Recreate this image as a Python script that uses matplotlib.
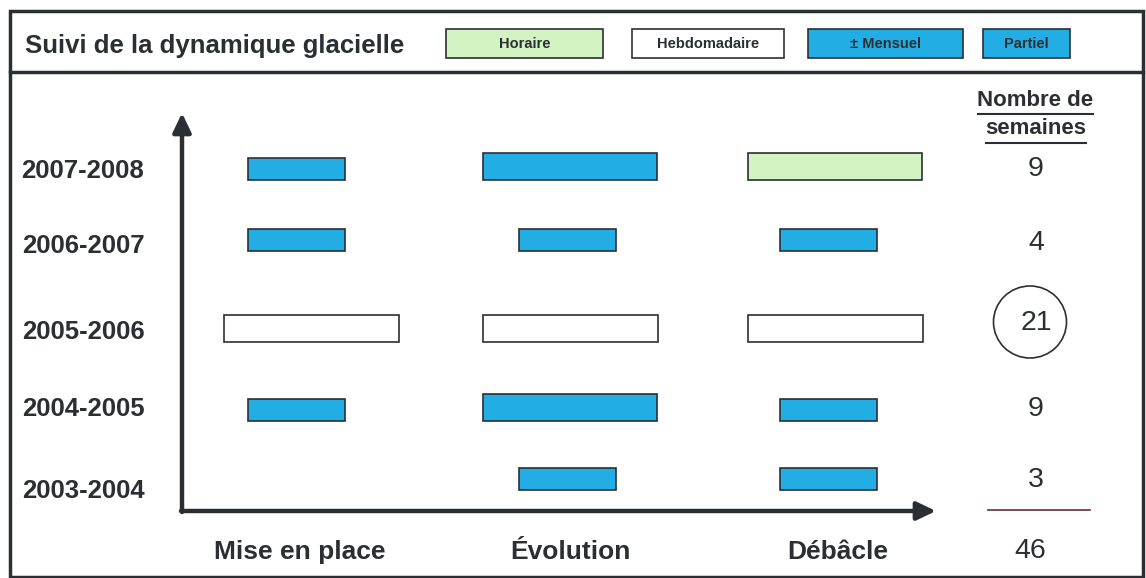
import matplotlib.pyplot as plt
from matplotlib.patches import Rectangle, Ellipse

plt.rcParams['font.family'] = ['Liberation Sans', 'DejaVu Sans']

# données
years = ['2007-2008', '2006-2007', '2005-2006', '2004-2005', '2003-2004']
phases = ['Mise en place', 'Évolution', 'Débâcle']
# type de suivi par année (lignes) et phase (colonnes)
suivi = [
    ['Partiel', 'Mensuel', 'Horaire'],
    ['Partiel', 'Partiel', 'Partiel'],
    ['Hebdomadaire', 'Hebdomadaire', 'Hebdomadaire'],
    ['Partiel', 'Mensuel', 'Partiel'],
    [None, 'Partiel', 'Partiel'],
]
semaines = [9, 4, 21, 9, 3]
total = 46
legend_labels = ['Horaire', 'Hebdomadaire', '± Mensuel', 'Partiel']
legend_keys = ['Horaire', 'Hebdomadaire', 'Mensuel', 'Partiel']

# styles
BLUE = '#22aee4'
GREEN = '#d3f3c3'
DARK = '#2b2f33'
colors = {'Horaire': GREEN, 'Hebdomadaire': 'white', 'Mensuel': BLUE, 'Partiel': BLUE}
widths = {'Horaire': 174, 'Hebdomadaire': 175, 'Mensuel': 174, 'Partiel': 97}
heights = {'Horaire': 27, 'Hebdomadaire': 27, 'Mensuel': 27, 'Partiel': 22}

# mise en page (pixels)
col_x = [311, 570, 835]        # centres des barres larges
col_x_narrow = [296, 567, 828]  # centres des barres partielles
row_base = [180, 251, 342, 421, 490]
row_label = [171, 246, 332, 409, 491]
row_num = [169, 243, 323, 409, 480]

fig = plt.figure(figsize=(11.46, 5.78), dpi=100)
ax = fig.add_axes([0, 0, 1, 1])
ax.set_xlim(0, 1146)
ax.set_ylim(578, 0)
ax.axis('off')

# cadre
ax.add_patch(Rectangle((10, 11), 1133, 566, fill=False, ec=DARK, lw=2.5))
ax.plot([10, 1143], [72, 72], color=DARK, lw=2.5)

# en-tête
ax.text(25, 46, 'Suivi de la dynamique glacielle', fontsize=18.5, fontweight='bold',
        color=DARK, va='center', ha='left')
leg_x = [446, 632, 808, 983]
leg_w = [157, 152, 155, 87]
for lx, lw_, lab, key in zip(leg_x, leg_w, legend_labels, legend_keys):
    ax.add_patch(Rectangle((lx, 29), lw_, 29, fc=colors[key], ec=DARK, lw=1.2))
    ax.text(lx + lw_ / 2, 43.5, lab, fontsize=10.5, fontweight='bold', color=DARK,
            ha='center', va='center')

# barres
for i, row in enumerate(suivi):
    for j, t in enumerate(row):
        if t is None:
            continue
        x = col_x_narrow[j] if t == 'Partiel' else col_x[j]
        ax.bar(x, heights[t], bottom=row_base[i] - heights[t],
               width=widths[t], color=colors[t], edgecolor=DARK, linewidth=1.2)

# axes fléchés
arrow = dict(arrowstyle='-|>,head_length=1.15,head_width=0.55',
             color=DARK, lw=3.2, shrinkA=0, shrinkB=0)
ax.annotate('', xy=(182, 113), xytext=(182, 512), arrowprops=arrow)
ax.annotate('', xy=(936, 511), xytext=(181, 511), arrowprops=arrow)

# étiquettes
for y, lab in zip(row_label, years):
    ax.text(83, y, lab, fontsize=18.5, fontweight='bold', color=DARK,
            ha='center', va='center')
for x, lab in zip([300, 570, 838], phases):
    ax.text(x, 552, lab, fontsize=19, fontweight='bold', color=DARK,
            ha='center', va='center')

# nombre de semaines
ax.text(1035, 101, 'Nombre de', fontsize=16, fontweight='bold', color=DARK,
        ha='center', va='center')
ax.text(1036, 129, 'semaines', fontsize=16, fontweight='bold', color=DARK,
        ha='center', va='center')
ax.plot([978, 1093], [114, 114], color=DARK, lw=1.5)
ax.plot([986, 1086], [143, 143], color=DARK, lw=1.5)
for y, n in zip(row_num, semaines):
    ax.text(1036, y, str(n), fontsize=20.5, color=DARK, ha='center', va='center')
ax.add_patch(Ellipse((1030, 322), 73, 72, fill=False, ec=DARK, lw=1.2))
ax.plot([988, 1090], [510, 510], color='#6b2a3a', lw=1.2)
ax.text(1030, 551, str(total), fontsize=20.5, color=DARK, ha='center', va='center')

fig.savefig('out.png', dpi=100)
